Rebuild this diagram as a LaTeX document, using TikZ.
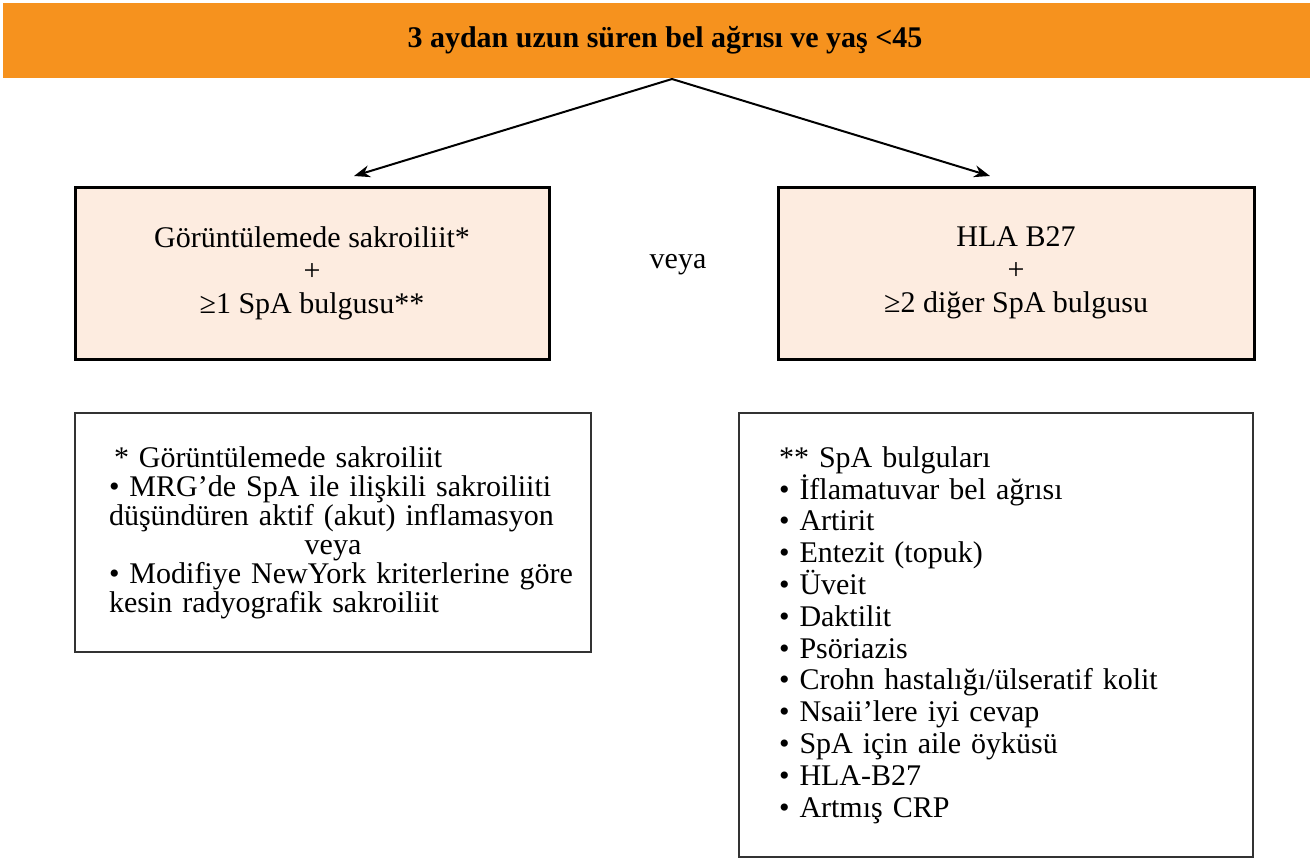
\documentclass[tikz,border=0pt]{standalone}
\usepackage{fontspec}
\setmainfont{Liberation Serif}
\usepackage{xcolor}
\usetikzlibrary{arrows.meta,positioning}
\definecolor{bannerorange}{RGB}{246,146,30}
\definecolor{boxpeach}{RGB}{253,236,224}
\tikzset{
    banner/.style={fill=bannerorange, minimum width=662pt, minimum height=37.5pt, inner sep=0pt, font=\bfseries\fontsize{15}{18}\selectfont},
    criterion/.style={draw=black, line width=1.5pt, fill=boxpeach, minimum height=86pt, align=center, font=\fontsize{15}{16.5}\selectfont},
    notebox/.style={draw=black!80, line width=0.9pt, inner sep=0pt, align=left},
    branch/.style={line width=1pt, -{Stealth[length=8pt,width=6pt]}}
}
\begin{document}
\begin{tikzpicture}[x=0.5pt, y=-0.5pt, font=\fontsize{15}{17}\selectfont]
    \useasboundingbox (0,0) rectangle (1310,858);
    % coordinates
    \coordinate (apex) at (672,79);
    \coordinate (tipL) at (354,176);
    \coordinate (tipR) at (990,176);

    % header
    \node[banner] (header) at (665,40.5) {3 aydan uzun süren bel ağrısı ve yaş <45};

    % criteria
    \node[criterion, minimum width=237pt] (imaging) at (312,273) {Görüntülemede sakroiliit*\\+\\≥1 SpA bulgusu**};
    \node[criterion, minimum width=238pt] (hla) at (1016,273) {HLA B27\\+\\≥2 diğer SpA bulgusu};
    \node (or) at (678,265) {veya};

    % notes
    \node[notebox, minimum width=258pt, minimum height=119.5pt, text width=224pt, font=\fontsize{15}{14.5}\selectfont] (imgnote) at (333,532.5) {\,* Görüntülemede sakroiliit\\
        • MRG’de SpA ile ilişkili sakroiliiti\\
        düşündüren aktif (akut) inflamasyon\\
        \makebox[224pt]{veya}\\
        \mbox{• Modifiye NewYork kriterlerine göre}\\
        kesin radyografik sakroiliit};
    \node[notebox, minimum width=257pt, minimum height=222pt, text width=217pt, font=\fontsize{15}{15.9}\selectfont] (spanote) at (996,635) {** SpA bulguları\\
        • İflamatuvar bel ağrısı\\
        • Artirit\\
        • Entezit (topuk)\\
        • Üveit\\
        • Daktilit\\
        • Psöriazis\\
        • Crohn hastalığı/ülseratif kolit\\
        • Nsaii’lere iyi cevap\\
        • SpA için aile öyküsü\\
        • HLA-B27\\
        • Artmış CRP};

    % arrows
    \draw[branch] (apex) -- (tipL);
    \draw[branch] (apex) -- (tipR);
\end{tikzpicture}
\end{document}
